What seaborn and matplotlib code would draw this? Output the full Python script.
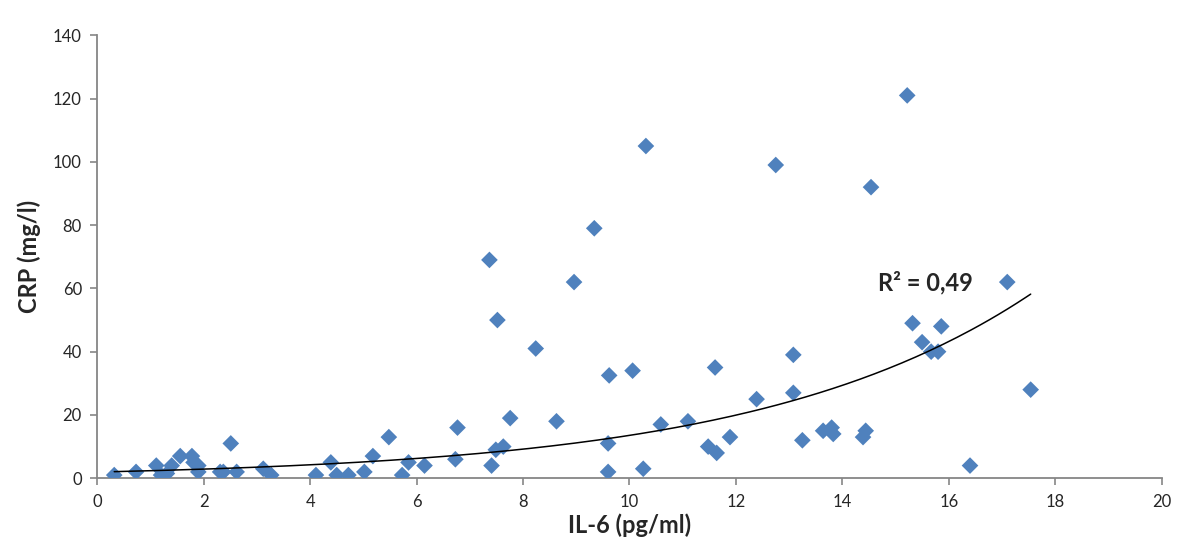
import matplotlib
matplotlib.use("Agg")
import matplotlib.pyplot as plt
import seaborn as sns
import numpy as np
import pandas as pd

# IL-6 (pg/ml) vs CRP (mg/l)
il6 = [0.32, 0.73, 1.11, 1.20, 1.31, 1.40, 1.56, 1.78, 1.81, 1.90, 1.90, 2.31,
       2.37, 2.51, 2.62, 3.12, 3.27, 4.11, 4.39, 4.50, 4.72, 5.02, 5.18, 5.48,
       5.73, 5.85, 6.15, 6.73, 6.77, 7.37, 7.41, 7.49, 7.52, 7.63, 7.76, 8.24,
       8.63, 8.96, 9.34, 9.60, 9.60, 9.62, 10.06, 10.26, 10.31, 10.59, 11.10,
       11.48, 11.64, 11.61, 11.89, 12.39, 12.75, 13.08, 13.08, 13.25, 13.64,
       13.80, 13.83, 14.39, 14.44, 14.54, 15.22, 15.32, 15.50, 15.67, 15.80,
       15.86, 16.40, 17.10, 17.54]
crp = [1, 2, 4, 1, 1.5, 4, 7, 7, 5, 4, 2, 2,
       2, 11, 2, 3, 1, 1, 5, 1, 1, 2, 7, 13,
       1, 5, 4, 6, 16, 69, 4, 9, 50, 10, 19, 41,
       18, 62, 79, 11, 2, 32.5, 34, 3, 105, 17, 18,
       10, 8, 35, 13, 25, 99, 39, 27, 12, 15,
       16, 14, 13, 15, 92, 121, 49, 43, 40, 40,
       48, 4, 62, 28]
r2_label = "R² = 0,49"

df = pd.DataFrame({"il6": il6, "crp": crp})

sns.set_style("white")
plt.rcParams["font.family"] = ["Lato", "DejaVu Sans"]

fig = plt.figure(figsize=(12, 5.6), dpi=100)
ax = fig.add_axes([0.081, 0.146, 0.887, 0.791])

sns.scatterplot(data=df, x="il6", y="crp", marker="D", s=72,
                color="#4F81BD", edgecolor="none", ax=ax, zorder=3)

# exponential trendline (Excel style: fit ln(y) against x)
b, ln_a = np.polyfit(df["il6"], np.log(df["crp"]), 1)
xs = np.linspace(df["il6"].min(), df["il6"].max(), 200)
ax.plot(xs, np.exp(ln_a) * np.exp(b * xs), color="black", lw=1.1, zorder=4)

ax.text(14.68, 61.8, r2_label, fontsize=17, fontweight="bold", va="center", ha="left")

ax.set_xlim(0, 20)
ax.set_ylim(0, 140)
ax.set_xticks(range(0, 21, 2))
ax.set_yticks(range(0, 141, 20))

ax.set_xlabel("IL-6 (pg/ml)", fontsize=17, fontweight="bold", labelpad=3)
ax.set_ylabel("CRP (mg/l)", fontsize=17, fontweight="bold", labelpad=9)

for side in ["top", "right"]:
    ax.spines[side].set_visible(False)
for side in ["left", "bottom"]:
    ax.spines[side].set_color("#868686")
    ax.spines[side].set_linewidth(1.3)
ax.tick_params(axis="both", direction="out", length=5, width=1.2, color="#868686",
               labelsize=12, pad=6, left=True, bottom=True)

fig.savefig("out.png", dpi=100)
